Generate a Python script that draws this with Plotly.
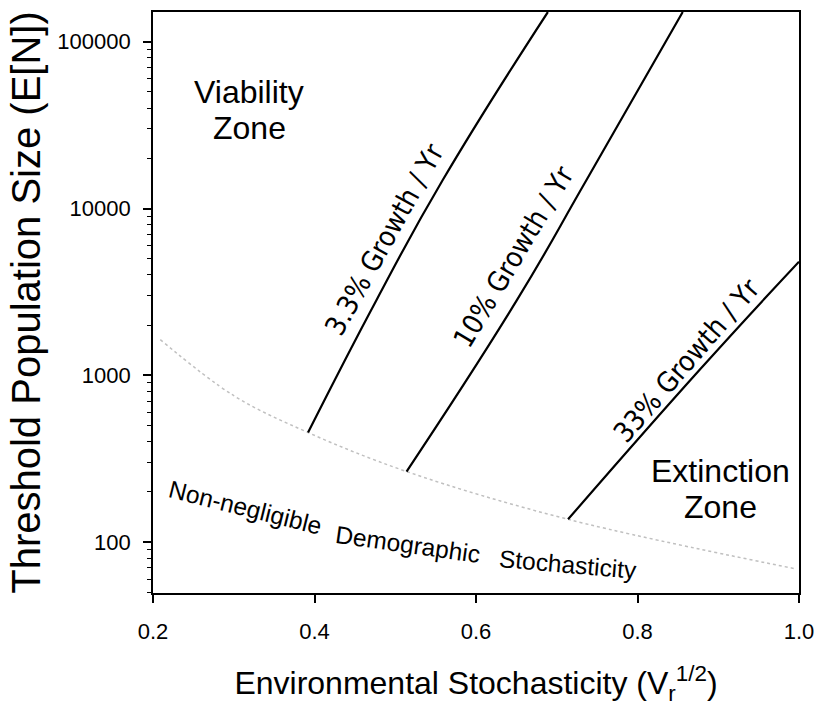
import plotly.graph_objects as go
import numpy as np

# ---- data ----
g33_x = [0.392, 0.477, 0.559, 0.689]
g33_y = [454, 2840, 14860, 150600]

g10_x = [0.514, 0.651, 0.737, 0.856]
g10_y = [265, 2840, 14860, 150600]

g330_x = [0.714, 0.877, 1.0]
g330_y = [137, 1080, 4800]

demo_x = [0.209, 0.300, 0.392, 0.514, 0.714, 0.997]
demo_y = [1637, 755, 454, 265, 137, 69]

x_ticks = [0.2, 0.4, 0.6, 0.8, 1.0]
x_ticktext = ["0.2", "0.4", "0.6", "0.8", "1.0"]

AX_FONT = "DejaVu Sans Condensed, Liberation Sans, Arial, sans-serif"
TXT_FONT = "Liberation Sans, Arial, sans-serif"

fig = go.Figure()
fig.add_trace(go.Scatter(x=demo_x, y=demo_y, mode="lines", line_shape="spline",
                         line=dict(color="#c0c0c0", width=1.5, dash="dot"), hoverinfo="skip"))
for xs, ys in [(g33_x, g33_y), (g10_x, g10_y), (g330_x, g330_y)]:
    fig.add_trace(go.Scatter(x=xs, y=ys, mode="lines", line_shape="spline",
                             line=dict(color="black", width=2.2, smoothing=1.3), hoverinfo="skip"))

def ann(text, x, y, size, angle=0, font=TXT_FONT):
    fig.add_annotation(x=x, y=np.log10(y), xref="x", yref="y", text=text,
                       showarrow=False, textangle=angle,
                       font=dict(family=font, size=size, color="black"),
                       xanchor="center", yanchor="middle")

ann("Viability", 0.319, 50000, 32)
ann("Zone", 0.319, 30400, 32)
ann("Extinction", 0.903, 268, 32)
ann("Zone", 0.903, 162, 32)

ann("3.3% Growth / Yr", 0.487, 6500, 28, -61, AX_FONT)
ann("10% Growth / Yr", 0.647, 5140, 28, -59, AX_FONT)
ann("33% Growth / Yr", 0.861, 1225, 28, -49, AX_FONT)

ann("Non-negligible", 0.314, 161, 24.5, 14)
ann("Demographic", 0.516, 97, 24.5, 8)
ann("Stochasticity", 0.714, 73.5, 24.5, 5)

fig.update_layout(
    width=815, height=706,
    margin=dict(l=153, r=16, t=12, b=113),
    plot_bgcolor="white", paper_bgcolor="white",
    showlegend=False,
    font=dict(family=AX_FONT, color="black"),
)
fig.update_xaxes(
    range=[0.2, 1.0], tickvals=x_ticks, ticktext=x_ticktext,
    ticks="outside", ticklen=8, tickwidth=1.5, tickcolor="black",
    showline=True, linecolor="black", linewidth=1.7, mirror=True,
    showgrid=False, zeroline=False,
    tickfont=dict(size=22, family=TXT_FONT), ticklabelstandoff=10,
    title=dict(text="Environmental Stochasticity (V<sub>r</sub><sup>1/2</sup>)",
               font=dict(size=32, family=TXT_FONT), standoff=44),
    automargin=False,
)
fig.update_yaxes(
    type="log", range=[1.695, 5.178], dtick=1, tickformat="d",
    ticks="outside", ticklen=8, tickwidth=1.5, tickcolor="black",
    minor=dict(ticks="outside", ticklen=4, tickwidth=1, tickcolor="black", showgrid=False),
    showline=True, linecolor="black", linewidth=1.7, mirror=True,
    showgrid=False, zeroline=False,
    tickfont=dict(size=22, family=TXT_FONT), ticklabelstandoff=8,
    title=dict(text="Threshold Population Size (E[N])",
               font=dict(size=40, family=TXT_FONT), standoff=4),
    automargin=False,
)

fig.write_html("out.html", config={"displayModeBar": False},
               post_script="document.body.style.margin='0';")
